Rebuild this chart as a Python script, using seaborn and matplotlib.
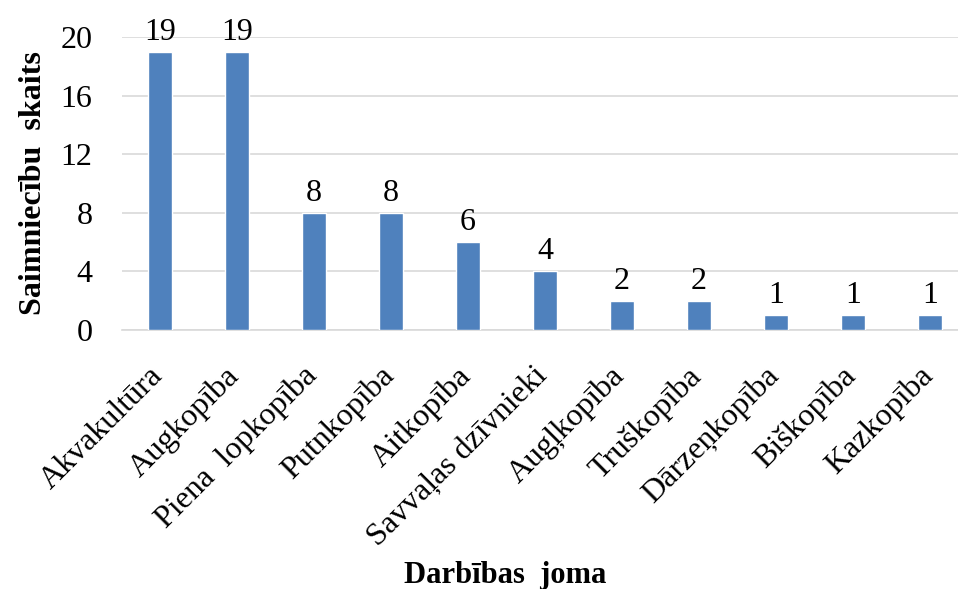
import matplotlib
matplotlib.use("Agg")
import matplotlib.pyplot as plt
import seaborn as sns
import pandas as pd

categories = ["Akvakultūra", "Augkopība", "Piena  lopkopība", "Putnkopība", "Aitkopība",
              "Savvaļas dzīvnieki", "Augļkopība", "Truškopība", "Dārzeņkopība",
              "Biškopība", "Kazkopība"]
counts = [19, 19, 8, 8, 6, 4, 2, 2, 1, 1, 1]
y_ticks = [0, 4, 8, 12, 16, 20]

df = pd.DataFrame({"joma": categories, "skaits": counts})

sns.set_theme(style="white")
plt.rcParams["font.family"] = ["Liberation Serif", "DejaVu Serif"]
plt.rcParams["text.color"] = "black"
plt.rcParams["axes.labelcolor"] = "black"

fig = plt.figure(figsize=(9.58, 5.89), dpi=100)
ax = fig.add_axes([121.5 / 958, 259 / 589, (958 - 121.5) / 958, 293 / 589])

sns.barplot(data=df, x="joma", y="skaits", color="#4F81BD", saturation=1,
            width=0.3, ax=ax, zorder=3)

ax.set_ylim(0, 20)
ax.set_xlim(-0.5, 10 + 28 / 77)
ax.set_yticks(y_ticks)
ax.yaxis.grid(True, color="#D9D9D9", linewidth=1.2, zorder=0)
for s in ["top", "right", "left"]:
    ax.spines[s].set_visible(False)
ax.spines["bottom"].set_color("#D9D9D9")
ax.spines["bottom"].set_linewidth(1.2)
ax.tick_params(axis="both", length=0, labelsize=23, colors="black")
ax.tick_params(axis="y", pad=21)

# slanted category names placed under each bar
ax.set_xticks(range(len(categories)))
ax.set_xticklabels([])
for i, name in enumerate(categories):
    ax.annotate(name, xy=(i, 0), xycoords=("data", "axes fraction"),
                xytext=(-8.6, -22.6), textcoords="offset points",
                rotation=45, rotation_mode="anchor", ha="right", va="top",
                fontsize=23, annotation_clip=False)

for i, v in enumerate(counts):
    ax.text(i, v + 0.35, str(v), ha="center", va="bottom", fontsize=23, clip_on=False)

ax.set_ylabel("Saimniecību  skaits", fontsize=23, fontweight="bold", labelpad=9)
ax.set_xlabel("")
fig.text(505 / 958, 14 / 589, "Darbības  joma", ha="center", va="center",
         fontsize=22, fontweight="bold")

fig.savefig("out.png", dpi=100)
